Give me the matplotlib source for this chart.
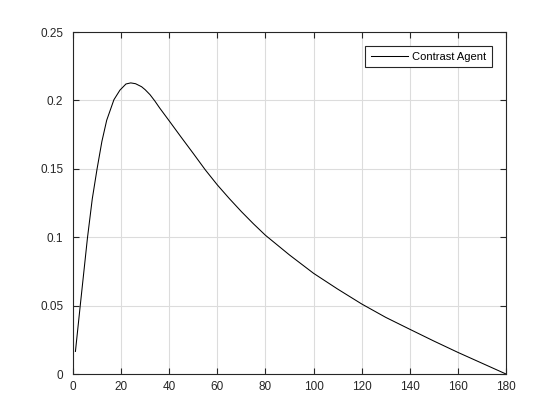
import matplotlib
matplotlib.use("Agg")
import matplotlib.pyplot as plt

x_vals = [1, 3, 6, 8, 10, 12, 14, 17, 19.5, 22, 24, 26, 28.5, 30, 32, 34, 36, 40,
          45, 50, 55, 60, 65, 70, 75, 80, 90, 100, 110, 120, 130, 140, 150, 160, 170, 180]
y_vals = [0.0165, 0.050, 0.0995, 0.128, 0.150, 0.170, 0.1855, 0.2005, 0.2075,
          0.2120, 0.2128, 0.2122, 0.2100, 0.2078, 0.2042, 0.1996, 0.1945, 0.1850,
          0.1730, 0.1612, 0.1492, 0.1382, 0.1282, 0.1187, 0.1098, 0.1014,
          0.0870, 0.0736, 0.0621, 0.0512,
          0.0414, 0.0327, 0.0241, 0.0158, 0.0079, 0.0]
series_label = "Contrast Agent"
x_ticks = [0, 20, 40, 60, 80, 100, 120, 140, 160, 180]
y_ticks = [0, 0.05, 0.1, 0.15, 0.2, 0.25]
y_tick_labels = ["0", "0.05", "0.1", "0.15", "0.2", "0.25"]

plt.rcParams['font.family'] = ['Liberation Sans', 'DejaVu Sans']

fig = plt.figure(figsize=(5.6, 4.2), dpi=100)
ax = fig.add_axes([0.1304, 0.1095, 0.7732, 0.8143])
ax.plot(x_vals, y_vals, color='black', linewidth=0.75, label=series_label)
ax.set_xlim(0, 180)
ax.set_ylim(0, 0.25)
ax.set_xticks(x_ticks)
ax.set_yticks(y_ticks)
ax.set_yticklabels(y_tick_labels)
ax.grid(True, color='#dcdcdc', linewidth=0.8)
ax.set_axisbelow(True)
ax.tick_params(direction='in', length=4, width=0.8, top=True, right=True,
               labelsize=8.5, colors='#262626', labelcolor='#262626')
ax.tick_params(axis='y', pad=7)
ax.tick_params(axis='x', pad=5)
for s in ax.spines.values():
    s.set_color('#262626')
    s.set_linewidth(0.8)
leg = ax.legend(loc='upper right', fontsize=8, fancybox=False, framealpha=1,
                edgecolor='#262626', borderpad=0.5, handlelength=3.3,
                handletextpad=0.4, bbox_to_anchor=(0.98, 0.975))
leg.get_frame().set_linewidth(0.8)
fig.savefig("out.png", dpi=100, facecolor='white')
